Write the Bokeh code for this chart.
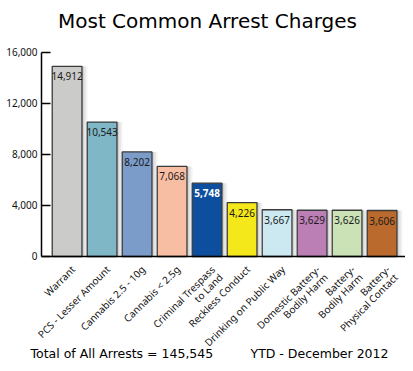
import math
from bokeh.plotting import figure
from bokeh.models import (ColumnDataSource, Range1d, FixedTicker,
                          NumeralTickFormatter, LabelSet, Label)
from bokeh.core.properties import value
from bokeh.embed import file_html
from bokeh.resources import INLINE

# ---- data ----
categories = ["Warrant", "PCS - Lesser Amount", "Cannabis 2.5 - 10g", "Cannabis < 2.5g",
              "Criminal Trespass to Land", "Reckless Conduct", "Drinking on Public Way",
              "Domestic Battery-Bodily Harm", "Battery-Bodily Harm", "Battery-Physical Contact"]
label_line1 = ["Warrant", "PCS - Lesser Amount", "Cannabis 2.5 - 10g", "Cannabis < 2.5g",
               "Criminal Trespass", "Reckless Conduct", "Drinking on Public Way",
               "Domestic Battery-", "Battery-", "Battery-"]
label_line2 = ["", "", "", "", "to Land", "", "", "Bodily Harm", "Bodily Harm", "Physical Contact"]
arrests = [14912, 10543, 8202, 7068, 5748, 4226, 3667, 3629, 3626, 3606]
bar_colors = ["#cbcbc9", "#80b7c7", "#7b9bc9", "#f8bea4", "#0d4f9e",
              "#f5e81a", "#cce9f1", "#bb7fb6", "#cbe2b6", "#b96a2c"]
value_colors = ["#1a1a1a"] * 4 + ["#ffffff"] + ["#1a1a1a"] * 5
value_styles = ["normal"] * 4 + ["bold"] + ["normal"] * 5
y_ticks = [0, 4000, 8000, 12000, 16000]
title_text = "Most Common Arrest Charges"
footer_left = "Total of All Arrests = 145,545"
footer_right = "YTD - December 2012"

idx = list(range(len(categories)))
source = ColumnDataSource(dict(
    x=idx, cat=categories, l1=label_line1, l2=label_line2, val=arrests, color=bar_colors,
    vlab=[f"{v:,}" for v in arrests], vcolor=value_colors, vstyle=value_styles,
    zero=[0] * len(arrests),
    xs1=[i + 0.05 for i in idx], xs2=[i + 0.08 for i in idx], xs3=[i + 0.11 for i in idx],
))

# layout constants (frame fills the whole canvas)
X_START, X_END = -1.903, 9.669
Y_START, Y_END = -8392, 20078
Y_AXIS_AT = -0.731
X_AXIS_BOUNDS = (-0.731, 9.669)

p = figure(width=405, height=363, output_backend="svg", toolbar_location=None,
           x_range=Range1d(X_START, X_END), y_range=Range1d(Y_START, Y_END),
           min_border=0)
p.outline_line_color = None
p.grid.visible = False
p.background_fill_color = "white"
p.border_fill_color = "white"

# soft shadows
for col, w, a in [("xs3", 0.95, 0.045), ("xs2", 0.91, 0.06), ("xs1", 0.87, 0.08)]:
    p.vbar(x=col, top="val", bottom=0, width=w, source=source,
           fill_color="#000000", fill_alpha=a, line_color=None)

p.vbar(x="x", top="val", bottom=0, width=0.85, source=source, fill_color="color",
       line_color="#3a3a3a", line_width=1.3)

p.text(x="x", y="val", text="vlab", source=source, text_align="center",
       text_baseline="middle", y_offset=10, text_font_size=value("10px"),
       text_color="vcolor", text_font_style="vstyle", text_font=value("Noto Sans"))

# axes
yax = p.yaxis[0]
yax.fixed_location = Y_AXIS_AT
yax.bounds = (0, 16000)
yax.ticker = FixedTicker(ticks=y_ticks)
yax.formatter = NumeralTickFormatter(format="0,0")
yax.major_tick_in = 9
yax.major_tick_out = 0
yax.minor_tick_line_color = None
yax.major_label_standoff = 4
yax.major_label_text_font = "Noto Sans"
yax.major_label_text_font_size = "10px"
yax.major_label_text_color = "#111111"
yax.axis_line_color = "#000000"
yax.axis_line_width = 1.5
yax.major_tick_line_width = 1.5

xax = p.xaxis[0]
xax.fixed_location = 0
xax.bounds = X_AXIS_BOUNDS
xax.ticker = FixedTicker(ticks=[])
xax.major_tick_line_color = None
xax.minor_tick_line_color = None
xax.axis_line_color = "#000000"
xax.axis_line_width = 1.5

common = dict(source=source, angle=math.pi / 4, text_align="right", text_baseline="top",
              text_font=value("Noto Sans"), text_font_size=value("10px"),
              text_color="#111111")
p.add_layout(LabelSet(x="x", y="zero", text="l1", x_offset=1, y_offset=-6, **common))
p.add_layout(LabelSet(x="x", y="zero", text="l2", x_offset=1 + 7.8, y_offset=-6 - 7.8, **common))

p.add_layout(Label(x=207, y=20, x_units="canvas", y_units="canvas", text=title_text,
                   text_align="center", text_baseline="middle", text_font="DejaVu Sans",
                   text_font_size="20px", text_color="#000000"))
p.add_layout(Label(x=30, y=353, x_units="canvas", y_units="canvas", text=footer_left,
                   text_align="left", text_baseline="middle", text_font="DejaVu Sans",
                   text_font_size="12.5px", text_color="#000000"))
p.add_layout(Label(x=250, y=353, x_units="canvas", y_units="canvas", text=footer_right,
                   text_align="left", text_baseline="middle", text_font="DejaVu Sans",
                   text_font_size="12.5px", text_color="#000000"))

open("out.html", "w").write(file_html(p, INLINE))
